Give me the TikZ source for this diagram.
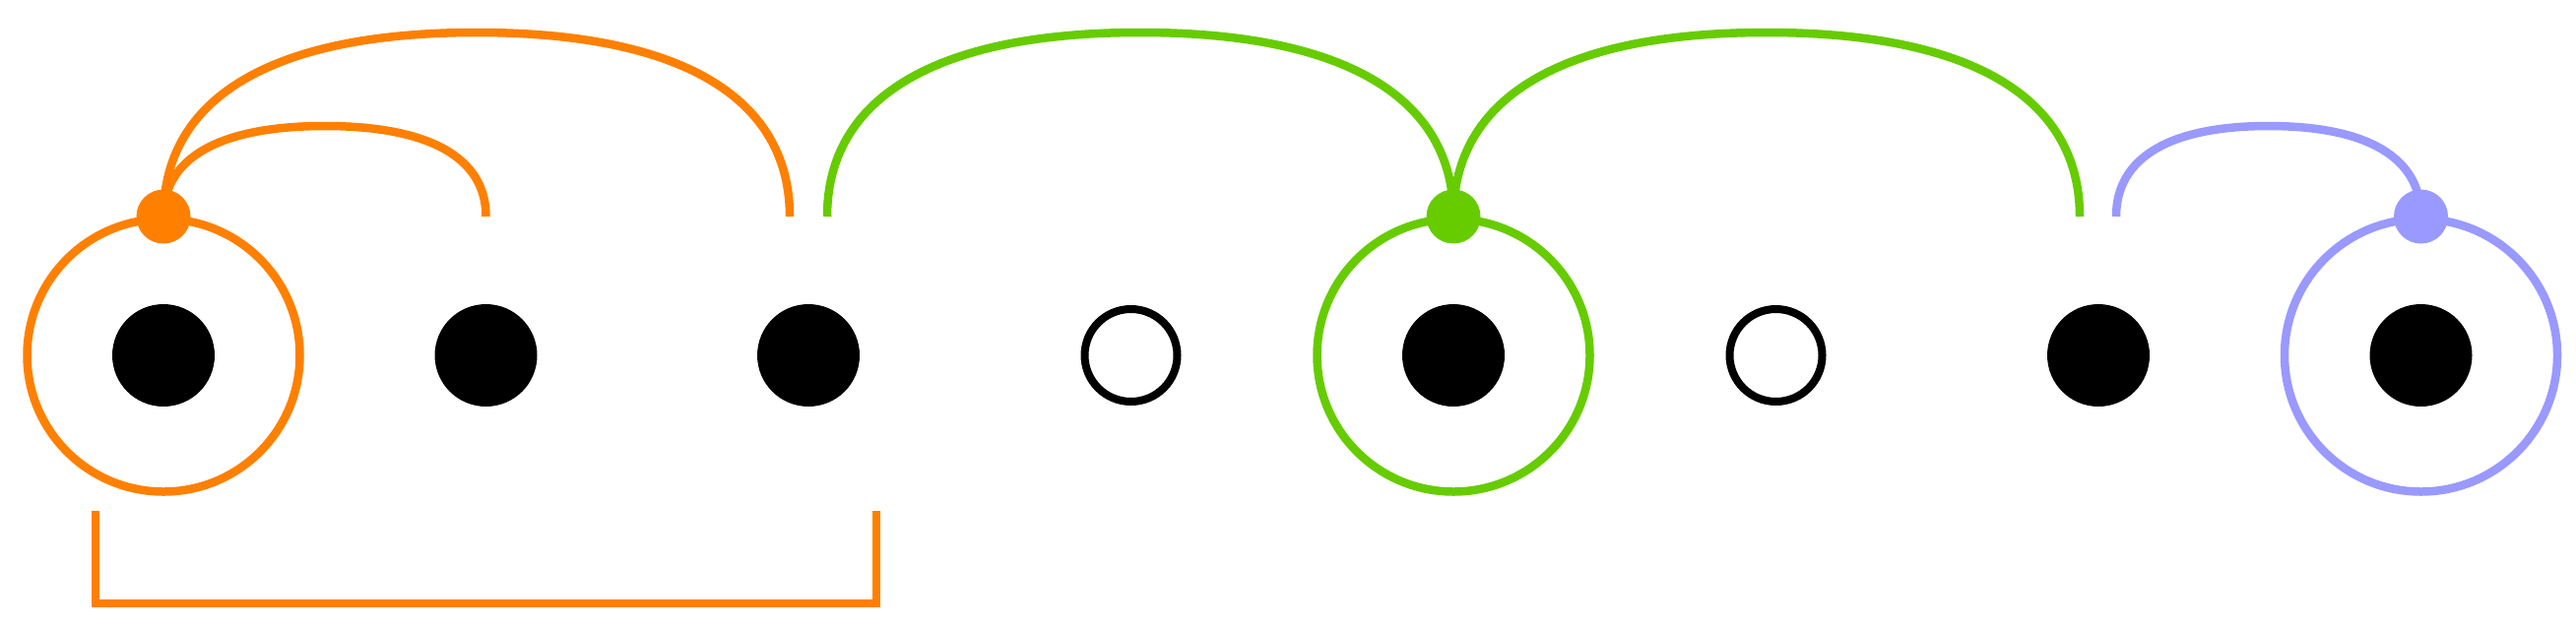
\documentclass[tikz,border=0pt]{standalone}
\definecolor{myorange}{HTML}{FF8000}
\definecolor{mygreen}{HTML}{66CC00}
\definecolor{myblue}{HTML}{9999FF}
\begin{document}
\begin{tikzpicture}[x=0.1mm,y=0.1mm,
  soliddot/.style={circle,fill=black,inner sep=0pt,minimum size=10.4mm},
  opendot/.style={circle,draw=black,line width=0.8mm,fill=white,inner sep=0pt,minimum size=9.4mm},
  ring/.style={circle,draw=#1,line width=0.85mm,inner sep=0pt,minimum size=27.7mm},
  hub/.style={circle,fill=#1,inner sep=0pt,minimum size=5.5mm},
  link/.style={draw=#1,line width=0.85mm}]
\useasboundingbox (0,0) rectangle (2616,636);
% rings
\node[ring=myorange] (r1) at (166,275) {};
\node[ring=mygreen] (r5) at (1476,275) {};
\node[ring=myblue] (r8) at (2458.5,275) {};
% dots
\node[soliddot] (d1) at (166,275) {};
\node[soliddot] (d2) at (493.5,275) {};
\node[soliddot] (d3) at (821,275) {};
\node[opendot] (d4) at (1148.5,275) {};
\node[soliddot] (d5) at (1476,275) {};
\node[opendot] (d6) at (1803.5,275) {};
\node[soliddot] (d7) at (2131,275) {};
\node[soliddot] (d8) at (2458.5,275) {};
% free ends
\coordinate (e1) at (493.5,416);
\coordinate (e2) at (802,416);
\coordinate (e3) at (840,416);
\coordinate (e4) at (2112,416);
\coordinate (e5) at (2149,416);
\coordinate (h1pos) at (166,416);
\coordinate (h5pos) at (1476,416);
\coordinate (h8pos) at (2458.5,416);
% arc tops
\coordinate (t1) at (329.75,508);
\coordinate (t2) at (484,603);
\coordinate (t3) at (1158,603);
\coordinate (t4) at (1794,603);
\coordinate (t5) at (2303.75,508);
% arcs
\draw[link=myorange] (h1pos) .. controls +(0,59.8) and +(-106.4,0) .. (t1)
  .. controls +(106.4,0) and +(0,59.8) .. (e1);
\draw[link=myorange] (h1pos) .. controls +(0,121.5) and +(-206.7,0) .. (t2)
  .. controls +(206.7,0) and +(0,121.5) .. (e2);
\draw[link=mygreen] (e3) .. controls +(0,121.5) and +(-206.7,0) .. (t3)
  .. controls +(206.7,0) and +(0,121.5) .. (h5pos);
\draw[link=mygreen] (h5pos) .. controls +(0,121.5) and +(-206.7,0) .. (t4)
  .. controls +(206.7,0) and +(0,121.5) .. (e4);
\draw[link=myblue] (e5) .. controls +(0,59.8) and +(-100.6,0) .. (t5)
  .. controls +(100.6,0) and +(0,59.8) .. (h8pos);
% hubs
\node[hub=myorange] (h1) at (h1pos) {};
\node[hub=mygreen] (h5) at (h5pos) {};
\node[hub=myblue] (h8) at (h8pos) {};
% bracket
\coordinate (b1) at (97,117);
\coordinate (b2) at (97,23);
\coordinate (b3) at (890,23);
\coordinate (b4) at (890,117);
\draw[link=myorange] (b1) -- (b2) -- (b3) -- (b4);
\end{tikzpicture}
\end{document}
